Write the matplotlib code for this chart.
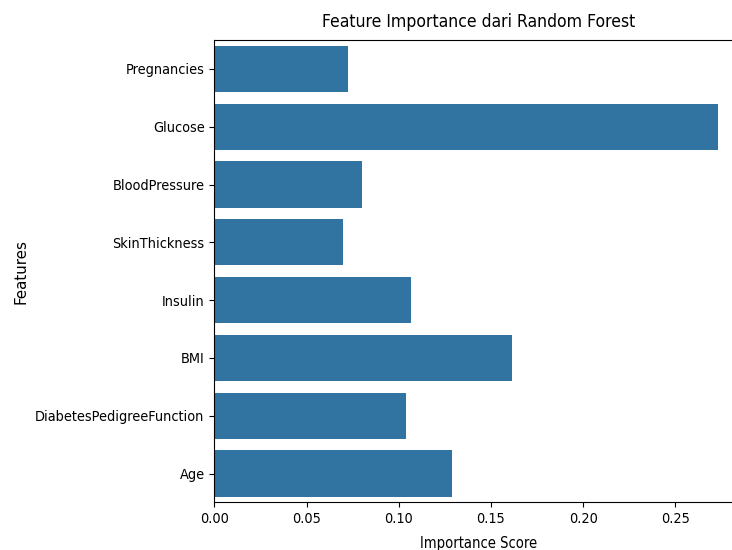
import numpy as np
import matplotlib
matplotlib.use("Agg")
import matplotlib.pyplot as plt
import seaborn as sns
import pandas as pd

# feature importances
features = ['Pregnancies', 'Glucose', 'BloodPressure', 'SkinThickness',
            'Insulin', 'BMI', 'DiabetesPedigreeFunction', 'Age']
importance = [0.0727, 0.2732, 0.0802, 0.0698, 0.1064, 0.1614, 0.1041, 0.1287]

df = pd.DataFrame({'Feature': features, 'Importance': importance})

plt.rcParams['font.family'] = ['DejaVu Sans']
plt.rcParams['font.stretch'] = 'condensed'

fig = plt.figure(figsize=(7.32, 5.5), dpi=100)
# the original picture is cut off on the right, so the axes run past the edge
ax = fig.add_axes([0.2928, 0.0864, 0.7227, 0.8409])

sns.barplot(data=df, x='Importance', y='Feature', ax=ax)

ax.set_title('Feature Importance dari Random Forest', fontsize=12.6, pad=9)
ax.set_xlabel('Importance Score', fontsize=10.5, labelpad=7)
ax.set_ylabel('Features', fontsize=10.9, fontstretch='normal')
ax.yaxis.set_label_coords(-0.352, 0.5)
ax.tick_params(labelsize=10.4)

fig.savefig('out.png', dpi=100)
